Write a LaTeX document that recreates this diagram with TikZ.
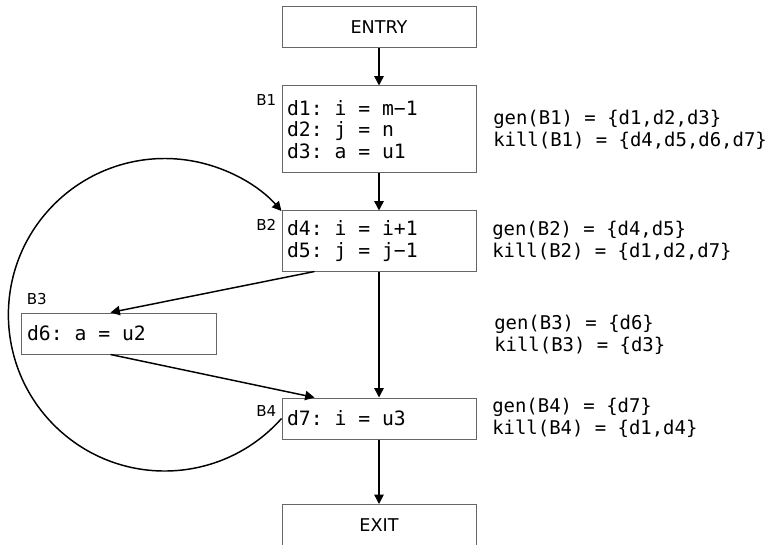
\documentclass[tikz,border=0pt]{standalone}
\usepackage{fontspec}
\setmainfont{DejaVu Sans}
\newfontfamily\codefont{DejaVu Sans Mono}
\usetikzlibrary{arrows.meta,calc}
\newcommand{\fixedspaces}{\spaceskip 0.602em\relax\xspaceskip 0.602em\relax}

\begin{document}
\begin{tikzpicture}[x=0.75pt, y=-0.75pt]
    % Styles for boxes and lines
    \tikzstyle{box} = [rectangle, draw=black!60, line width=0.75pt, minimum width=145.5pt, inner xsep=3.75pt, inner ysep=0pt, font=\codefont\fontsize{14.8}{16.1}\selectfont\fixedspaces]
    \tikzstyle{code} = [box, align=flush left, text width=138pt, execute at begin node=\fixedspaces]
    \tikzstyle{tag} = [inner sep=0pt, font=\fontsize{11.3}{13}\selectfont]
    \tikzstyle{sets} = [anchor=west, inner sep=0pt, align=left, font=\codefont\fontsize{14.2}{16.5}\selectfont]
    \tikzstyle{arrow} = [line width=1.1pt, -{Triangle[length=7pt, width=7pt]}]

    \useasboundingbox (0,0) rectangle (770,545);

  % Nodes with explicit coordinates
    \node[box, minimum height=30.75pt, font=\fontsize{13.2}{15}\selectfont] (entry) at (379,27.5) {ENTRY};
    \node[code, minimum height=65.25pt] (b1) at (379,129.5) {d1: i = m−1\\d2: j = n\\d3: a = u1};
    \node[code, minimum height=45pt] (b2) at (379,241) {d4: i = i+1\\d5: j = j−1};
    \node[code, minimum width=146.25pt, text width=137.25pt, inner xsep=4.5pt, minimum height=30.75pt] (b3) at (118.5,333.5) {d6: a = u2};
    \node[code, minimum height=30.75pt] (b4) at (379,418.5) {d7: i = u3};
    \node[box, minimum height=31.5pt, font=\fontsize{13.2}{15}\selectfont] (exit) at (379,525.5) {EXIT};

  % Block names
    \node[tag, anchor=base east] (b1tag) at ([xshift=-3.75pt, yshift=-15pt]b1.north west) {B1};
    \node[tag, anchor=base east] (b2tag) at ([xshift=-3.75pt, yshift=-15pt]b2.north west) {B2};
    \node[tag, anchor=base west] (b3tag) at ([xshift=4.5pt, yshift=6pt]b3.north west) {B3};
    \node[tag, anchor=base east] (b4tag) at ([xshift=-3.75pt, yshift=-14pt]b4.north west) {B4};

  % gen and kill sets
    \node[sets] (b1sets) at (493,129.5) {gen(B1) = \{d1,d2,d3\}\\kill(B1) = \{d4,d5,d6,d7\}};
    \node[sets] (b2sets) at (492,241) {gen(B2) = \{d4,d5\}\\kill(B2) = \{d1,d2,d7\}};
    \node[sets] (b3sets) at (494,335) {gen(B3) = \{d6\}\\kill(B3) = \{d3\}};
    \node[sets] (b4sets) at (492,418) {gen(B4) = \{d7\}\\kill(B4) = \{d1,d4\}};

  % Arrows
    \draw[arrow] (entry) -- (b1);
    \draw[arrow] (b1) -- (b2);
    \draw[arrow] (b2) -- (b4);
    \draw[arrow] (b4) -- (exit);
    \draw[arrow] ([xshift=24.75pt]b2.south west) -- ([xshift=-6pt]b3.north);
    \draw[arrow] ([xshift=-6pt]b3.south) -- ([xshift=24.75pt]b4.north west);
    \draw[arrow] (b4.west) arc[start angle=-41.6, end angle=-318.4, radius=117.2pt];

\end{tikzpicture}
\end{document}
